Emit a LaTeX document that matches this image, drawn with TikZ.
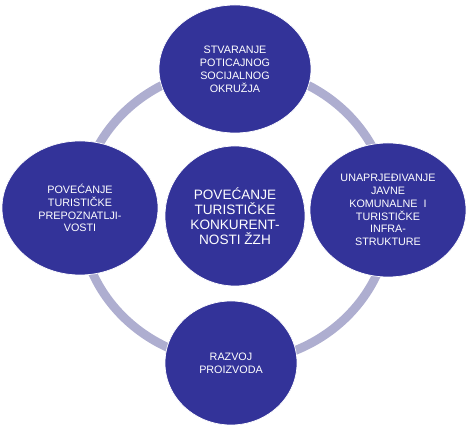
\documentclass[tikz,border=0pt]{standalone}
\usepackage{fontspec}
\setmainfont{Liberation Sans}
\usetikzlibrary{shapes.geometric}
\definecolor{goalblue}{RGB}{51,51,153}
\definecolor{ringgray}{RGB}{174,174,208}

\begin{document}
\begin{tikzpicture}[
  x=0.03cm, y=-0.03cm,
  area/.style={
    ellipse,
    fill=goalblue,
    draw=white,
    line width=0.6pt,
    inner sep=0pt,
    align=center,
    text=white,
    font=\fontsize{9.2}{11}\selectfont
  },
  goal/.style={
    area,
    minimum width=4.2cm,
    minimum height=4.2cm,
    font=\fontsize{11.6}{12.8}\selectfont
  },
  ring/.style={draw=ringgray, line width=7.5pt}
]
\useasboundingbox (0,0) rectangle (467,433);

\node[goal] (cilj) at (235,216) {POVEĆANJE\\TURISTIČKE\\KONKURENT-\\NOSTI ŽZH};
\coordinate (ringc) at (235,215);

% ring behind the outer circles
\draw[ring] (ringc) ellipse [x radius=155, y radius=147];

\node[area, minimum width=4.56cm, minimum height=3.84cm] (okruz) at (235,69)
  {STVARANJE\\POTICAJNOG\\SOCIJALNOG\\OKRUŽJA};
\node[area, minimum width=4.68cm, minimum height=4.02cm] (infra) at (388,210)
  {UNAPRJEĐIVANJE\\JAVNE\\KOMUNALNE~~I\\TURISTIČKE\\INFRA-\\STRUKTURE};
\node[area, minimum width=3.96cm, minimum height=3.72cm] (proizvod) at (231,363)
  {RAZVOJ\\PROIZVODA};
\node[area, minimum width=4.68cm, minimum height=4.02cm] (prepoz) at (80,208)
  {POVEĆANJE\\TURISTIČKE\\PREPOZNATLJI-\\VOSTI};

\end{tikzpicture}
\end{document}
